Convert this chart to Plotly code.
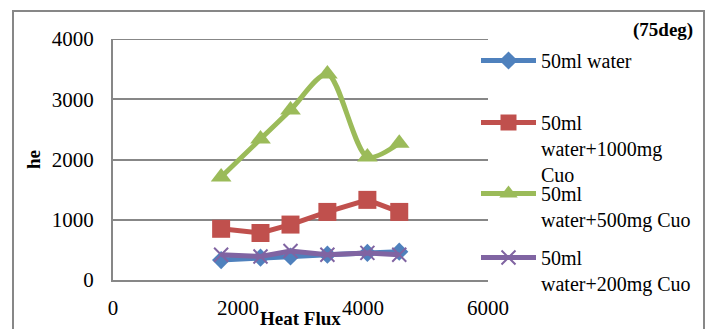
import plotly.graph_objects as go

# Heat flux values (x) and heat transfer coefficient he (y) for each mixture
heat_flux = [1730, 2360, 2840, 3430, 4070, 4580]

he_water = [330, 370, 390, 420, 450, 470]
he_1000mg = [850, 780, 920, 1130, 1330, 1130]
he_500mg = [1710, 2340, 2820, 3420, 2040, 2270]
he_200mg = [420, 390, 480, 420, 450, 420]

series_names = [
    "50ml water",
    "50ml<br>water+1000mg<br>Cuo",
    "50ml<br>water+500mg Cuo",
    "50ml<br>water+200mg Cuo",
]

x_ticks = [0, 2000, 4000, 6000]
y_ticks = [0, 1000, 2000, 3000, 4000]

FONT = "'Liberation Serif', 'Times New Roman', serif"
GRID = "#878787"

fig = go.Figure()

fig.add_trace(go.Scatter(
    x=heat_flux, y=he_water, name=series_names[0], mode="lines+markers",
    line=dict(color="#4F81BD", width=5),
    marker=dict(symbol="diamond", size=14, color="#4F81BD"),
    legend="legend",
))
fig.add_trace(go.Scatter(
    x=heat_flux, y=he_1000mg, name=series_names[1], mode="lines+markers",
    line=dict(color="#C0504D", width=5),
    marker=dict(symbol="square", size=18, color="#C0504D"),
    legend="legend2",
))
fig.add_trace(go.Scatter(
    x=heat_flux, y=he_500mg, name=series_names[2], mode="lines+markers",
    line=dict(color="#9BBB59", width=5, shape="spline", smoothing=0.8),
    marker=dict(symbol="triangle-up", size=18, color="#9BBB59"),
    legend="legend3",
))
fig.add_trace(go.Scatter(
    x=heat_flux, y=he_200mg, name=series_names[3], mode="lines+markers",
    line=dict(color="#8064A2", width=5),
    marker=dict(symbol="x-thin", size=14, color="#8064A2",
                line=dict(color="#8064A2", width=2)),
    legend="legend4",
))

W, H = 713, 329
ML, MR, MT, MB = 113, 225, 39, 49
PW, PH = W - ML - MR, H - MT - MB


def px_x(p):
    return (p - ML) / PW


def px_y(p):
    return (H - MB - p) / PH


legend_style = dict(
    font=dict(family=FONT, size=20, color="#000000"),
    bgcolor="rgba(0,0,0,0)",
    borderwidth=0,
    valign="top",
    xanchor="left",
    yanchor="top",
    x=px_x(476),
    itemwidth=55,
    tracegroupgap=0,
)

fig.update_layout(
    width=W, height=H,
    showlegend=True,
    margin=dict(l=ML, r=MR, t=MT, b=MB, pad=0, autoexpand=False),
    paper_bgcolor="#FFFFFF",
    plot_bgcolor="#FFFFFF",
    font=dict(family=FONT, size=20, color="#000000"),
    legend=dict(legend_style, y=px_y(41)),
    legend2=dict(legend_style, y=px_y(103)),
    legend3=dict(legend_style, y=px_y(174)),
    legend4=dict(legend_style, y=px_y(238)),
    xaxis=dict(
        range=[0, 6000], tickvals=x_ticks, ticktext=[str(v) for v in x_ticks],
        showgrid=False, zeroline=False, showline=True, linecolor=GRID,
        linewidth=2, ticks="", ticklabelstandoff=8,
        tickfont=dict(family=FONT, size=21, color="#000000"),
    ),
    yaxis=dict(
        range=[0, 4000], tickvals=y_ticks, ticktext=[str(v) for v in y_ticks],
        showgrid=True, gridcolor=GRID, gridwidth=2, zeroline=False,
        showline=True, linecolor=GRID, linewidth=2, ticks="",
        ticklabelstandoff=13,
        tickfont=dict(family=FONT, size=21, color="#000000"),
    ),
    shapes=[
        # outer chart border
        dict(type="rect", xref="paper", yref="paper",
             x0=px_x(13), x1=px_x(704), y0=px_y(340), y1=px_y(11),
             line=dict(color=GRID, width=2), fillcolor="rgba(0,0,0,0)",
             layer="below"),
        # top gridline at 4000
        dict(type="line", xref="paper", yref="y", x0=0, x1=1, y0=4000, y1=4000,
             line=dict(color=GRID, width=2)),
    ],
    annotations=[
        dict(text="<b>(75deg)</b>", xref="paper", yref="paper",
             x=px_x(695), y=px_y(30), xanchor="right", yanchor="middle",
             showarrow=False, font=dict(family=FONT, size=19, color="#000000")),
        dict(text="<b>Heat Flux</b>", xref="paper", yref="paper",
             x=px_x(300), y=px_y(318), xanchor="center", yanchor="middle",
             showarrow=False, font=dict(family=FONT, size=19, color="#000000")),
        dict(text="<b>he</b>", xref="paper", yref="paper",
             x=px_x(33), y=px_y(160), xanchor="center", yanchor="middle",
             textangle=-90, showarrow=False,
             font=dict(family=FONT, size=19, color="#000000")),
    ],
)

fig.write_html("out.html")
